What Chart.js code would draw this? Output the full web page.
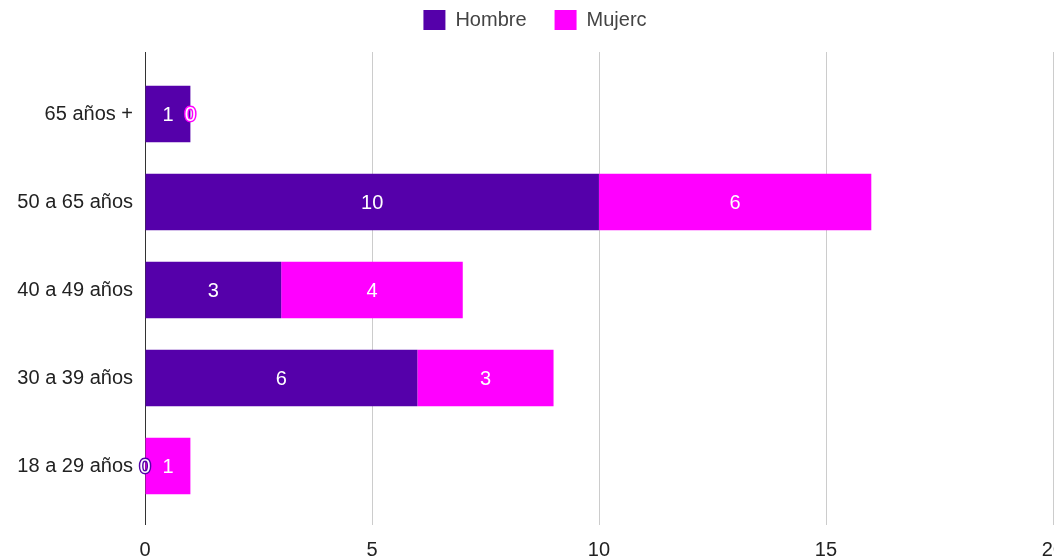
<!DOCTYPE html>
<html>
<head>
<meta charset="utf-8">
<script src="https://cdn.jsdelivr.net/npm/chart.js@4.4.1/dist/chart.umd.min.js"></script>
<style>
  html, body { margin: 0; padding: 0; background: #fff; overflow: hidden; }
  #wrap { width: 1064px; height: 559px; position: relative; }
</style>
</head>
<body>
<div id="wrap"><canvas id="barChart"></canvas></div>
<script>
const ageGroups = ['65 años +', '50 a 65 años', '40 a 49 años', '30 a 39 años', '18 a 29 años'];
const hombre = [1, 10, 3, 6, 0];
const mujer = [0, 6, 4, 3, 1];
const xTicks = [0, 5, 10, 15, 20];

const fontFamily = '"Liberation Sans", Arial, sans-serif';

// value labels inside the bars, zeros get an outline in the series colour
const barLabels = {
  id: 'barLabels',
  afterDatasetsDraw(chart) {
    const ctx = chart.ctx;
    ctx.save();
    ctx.font = '20px ' + fontFamily;
    ctx.textAlign = 'center';
    ctx.textBaseline = 'middle';
    chart.data.datasets.forEach((ds, i) => {
      const meta = chart.getDatasetMeta(i);
      meta.data.forEach((bar, j) => {
        const value = ds.data[j];
        const p = bar.getCenterPoint();
        if (value === 0) {
          ctx.lineWidth = 3;
          ctx.strokeStyle = ds.backgroundColor;
          ctx.strokeText(String(value), p.x, p.y + 1);
        }
        ctx.fillStyle = '#ffffff';
        ctx.fillText(String(value), p.x, p.y + 1);
      });
    });
    ctx.restore();
  }
};

// vertical grid lines that run a bit past the plot area
const xGrid = {
  id: 'xGrid',
  beforeDatasetsDraw(chart) {
    const ctx = chart.ctx;
    const x = chart.scales.x;
    const area = chart.chartArea;
    ctx.save();
    x.ticks.forEach(t => {
      const px = Math.round(x.getPixelForValue(t.value)) + 0.5;
      ctx.beginPath();
      ctx.strokeStyle = t.value === 0 ? '#333333' : '#cccccc';
      ctx.lineWidth = 1;
      ctx.moveTo(px, area.top - 18);
      ctx.lineTo(px, area.bottom + 15);
      ctx.stroke();
    });
    ctx.restore();
  }
};

const ctx = document.getElementById('barChart').getContext('2d');
new Chart(ctx, {
  type: 'bar',
  data: {
    labels: ageGroups,
    datasets: [
      {
        label: 'Hombre',
        data: hombre,
        backgroundColor: '#5500aa',
        categoryPercentage: 1,
        barPercentage: 0.64
      },
      {
        label: 'Mujerc',
        data: mujer,
        backgroundColor: '#ff00ff',
        categoryPercentage: 1,
        barPercentage: 0.64
      }
    ]
  },
  options: {
    indexAxis: 'y',
    responsive: true,
    maintainAspectRatio: false,
    animation: false,
    layout: {
      padding: { top: -18, bottom: 0, left: 6, right: 0 }
    },
    plugins: {
      legend: {
        display: true,
        position: 'top',
        labels: {
          boxWidth: 22,
          boxHeight: 20,
          padding: 28,
          color: '#444444',
          font: { family: fontFamily, size: 20 }
        }
      },
      tooltip: { enabled: false }
    },
    scales: {
      x: {
        stacked: true,
        min: 0,
        max: 20,
        afterBuildTicks: (scale) => {
          scale.ticks = xTicks.map(v => ({ value: v }));
        },
        // invisible tick marks push the labels down without adding side padding
        grid: {
          display: true,
          drawOnChartArea: false,
          drawTicks: true,
          tickLength: 28,
          tickColor: 'rgba(0,0,0,0)'
        },
        border: { display: false },
        ticks: {
          padding: 0,
          color: '#222222',
          maxRotation: 0,
          font: { family: fontFamily, size: 20 }
        },
        afterFit: (scale) => { scale.height = 49; }
      },
      // empty top axis, only keeps room between legend and bars
      xTop: {
        type: 'linear',
        position: 'top',
        display: true,
        grid: { display: false, drawTicks: false },
        border: { display: false },
        ticks: { display: false },
        afterFit: (scale) => { scale.height = 30; }
      },
      y: {
        stacked: true,
        grid: { display: false, drawTicks: false },
        border: { display: false },
        ticks: {
          padding: 12,
          color: '#222222',
          font: { family: fontFamily, size: 20 }
        },
        afterFit: (scale) => { scale.width = 139; }
      }
    }
  },
  plugins: [xGrid, barLabels]
});
</script>
</body>
</html>
